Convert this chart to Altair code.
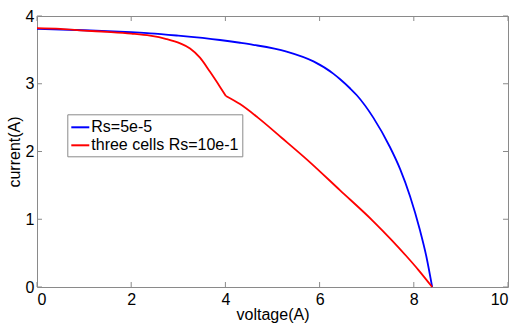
import altair as alt
import pandas as pd

# Series 1: Rs=5e-5
v_blue = [0, 1, 2, 2.4, 3, 3.885, 4.31, 4.59, 5.3, 5.87, 6.29, 6.43, 6.65, 6.79, 7.14, 7.49, 7.71, 7.92, 8.13, 8.27, 8.39]
i_blue = [3.81, 3.79, 3.76, 3.745, 3.71, 3.646, 3.605, 3.575, 3.475, 3.33, 3.15, 3.07, 2.93, 2.83, 2.50, 2.07, 1.74, 1.34, 0.84, 0.44, 0.0]

# Series 2: three cells Rs=10e-1 (two pieces meeting at the kink near V=4)
v_red_a = [0, 0.5, 1.0, 1.5, 2.0, 2.4, 2.75, 3.04, 3.25, 3.46, 3.67, 3.89, 4.01]
i_red_a = [3.82, 3.81, 3.785, 3.765, 3.74, 3.71, 3.66, 3.595, 3.52, 3.385, 3.18, 2.95, 2.82]
v_red_b = [4.01, 4.31, 4.69, 5.2, 5.75, 6.43, 7.14, 7.52, 7.85, 8.1, 8.39]
i_red_b = [2.82, 2.70, 2.50, 2.20, 1.87, 1.43, 0.97, 0.70, 0.45, 0.25, 0.0]

series_names = ["Rs=5e-5", "three cells Rs=10e-1"]
series_colors = ["#0000ff", "#ff0000"]

x_ticks = [0, 2, 4, 6, 8, 10]
y_ticks = [0, 1, 2, 3, 4]

df = pd.concat([
    pd.DataFrame({"v": v_blue, "i": i_blue, "s": series_names[0], "seg": "b", "o": 0}),
    pd.DataFrame({"v": v_red_a, "i": i_red_a, "s": series_names[1], "seg": "ra", "o": 1}),
    pd.DataFrame({"v": v_red_b, "i": i_red_b, "s": series_names[1], "seg": "rb", "o": 1}),
])
dfx = pd.DataFrame({"t": x_ticks})
dfy = pd.DataFrame({"t": y_ticks})

W, H = 471, 271
FONT = "Liberation Sans"
GRAY = "#8a8a8a"
TL = 5

xs = alt.Scale(domain=[0, 10], nice=False, zero=False)
ys = alt.Scale(domain=[0, 4], nice=False, zero=False)

lines = alt.Chart(df).mark_line(strokeWidth=1.8, interpolate="monotone").encode(
    x=alt.X("v:Q", scale=xs, axis=alt.Axis(
        values=x_ticks, format="d", title="voltage(A)", labelPadding=4.5, labelBaseline="top",
        titleY=32, titleBaseline="alphabetic")),
    y=alt.Y("i:Q", scale=ys, axis=alt.Axis(
        values=y_ticks, format="d", title="current(A)", labelPadding=3,
        titleX=-18, titleY=H / 2, titleAngle=270, titleBaseline="alphabetic", titleAlign="center")),
    color=alt.Color("s:N", scale=alt.Scale(domain=series_names, range=series_colors),
                    legend=alt.Legend(title=None, orient="none", legendX=30.3, legendY=98.3,
                                      symbolType="stroke", symbolSize=324, symbolStrokeWidth=2,
                                      labelFontSize=16, labelFont=FONT, labelOffset=1,
                                      padding=3, rowPadding=0, strokeColor=GRAY,
                                      fillColor="white", labelColor="black", labelLimit=300)),
    detail="seg:N",
    order="o:Q",
)

xb = alt.Chart(dfx).mark_rule(color=GRAY, strokeWidth=1).encode(
    x=alt.X("t:Q", scale=xs), y=alt.value(H), y2=alt.value(H - TL))
xt = alt.Chart(dfx).mark_rule(color=GRAY, strokeWidth=1).encode(
    x=alt.X("t:Q", scale=xs), y=alt.value(0), y2=alt.value(TL))
yl = alt.Chart(dfy).mark_rule(color=GRAY, strokeWidth=1).encode(
    y=alt.Y("t:Q", scale=ys), x=alt.value(0), x2=alt.value(TL))
yr = alt.Chart(dfy).mark_rule(color=GRAY, strokeWidth=1).encode(
    y=alt.Y("t:Q", scale=ys), x=alt.value(W), x2=alt.value(W - TL))

chart = alt.layer(xb, xt, yl, yr, lines).properties(
    width=W, height=H,
    autosize=alt.AutoSizeParams(type="none"),
    padding={"left": 37, "top": 16, "right": 9, "bottom": 37},
    background="white",
).configure_view(stroke=GRAY, strokeWidth=1).configure_axis(
    grid=False, ticks=False, tickSize=0, domain=False,
    labelFont=FONT, labelFontSize=16, labelColor="black",
    titleFont=FONT, titleFontSize=16, titleColor="black", titleFontWeight="normal",
)

chart.save("out.html", embed_options={"renderer": "svg", "actions": False})
